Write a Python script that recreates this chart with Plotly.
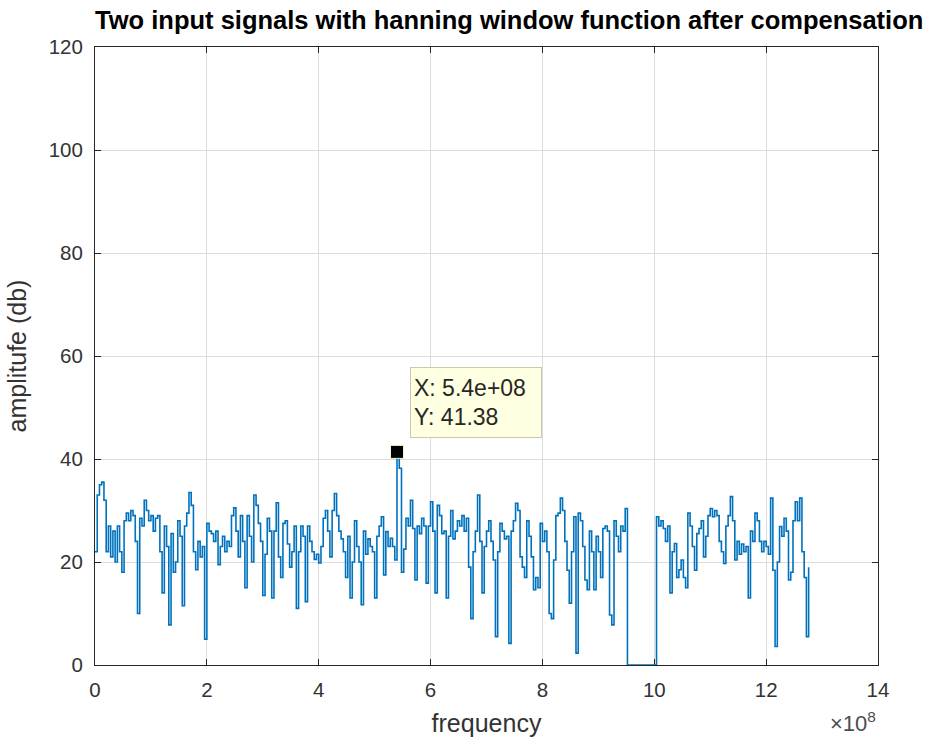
import numpy as np
import plotly.graph_objects as go

# Spectrum samples: frequency bins every 0.04e8 Hz, amplitude in dB
bin_step = 0.04e8
amplitude_db = [
    22, 33, 35, 35.5, 32, 22, 27, 21, 26, 20,
    27, 22, 18, 28, 29.5, 28, 30, 29, 24, 10,
    28.5, 27, 32, 30, 28, 29, 26, 28.5, 29, 22,
    14, 27, 23, 7.8, 25.5, 18, 20, 28, 25, 11.5,
    27, 29.5, 33.5, 31, 22, 18.5, 24, 21, 23, 5,
    27.5, 26, 25.5, 24, 26, 19.5, 23, 25, 22, 24,
    23, 29, 30.5, 26, 21, 29, 24, 15, 29, 25,
    20, 33, 31, 27.5, 24, 13.5, 21.5, 28.5, 26, 13,
    26, 31.5, 21, 17, 27.5, 28, 23.5, 19, 22, 27,
    11, 22, 27, 25, 12.3, 27, 24, 22, 20.5, 21.5,
    19.8, 23, 28.5, 30, 26, 21, 30, 33.3, 29, 26,
    24.5, 22, 17, 25, 13, 20, 28, 23, 20, 11.7,
    26, 21.5, 24.5, 23, 22, 13, 25, 27, 28.8, 17.5,
    25.9, 23, 24.6, 23, 20.4, 41.38, 38.2, 18, 22.5, 28.5,
    27, 32, 26.5, 16.5, 27, 25.5, 28.5, 27, 15.9, 27,
    31.7, 26, 14, 31, 29, 25.5, 26, 13, 25, 30,
    24.5, 26, 28, 27, 29, 26, 28.5, 19, 9, 22,
    26, 33, 24, 14, 23, 26, 28, 24, 20.4, 5.5,
    22, 27.5, 26, 24.5, 25, 4.2, 26, 28, 31.4, 30,
    21, 19, 17, 28, 25, 21, 14.6, 17, 15, 27.5,
    24, 26, 22, 10, 9, 20.4, 29, 29.5, 32.4, 30,
    24, 18.4, 12, 22, 28.8, 2.3, 29.5, 28, 23, 16.5,
    14.6, 26, 22, 14.6, 25, 22, 17, 26.5, 27, 26,
    9.7, 7.8, 28, 25, 22, 27, 26, 30.4, 0, 0,
    0, 0, 0, 0, 0, 0, 0, 0, 0, 0,
    0, 28.8, 27, 28, 26.5, 24, 27, 14, 22, 23.6,
    17, 18.5, 20.4, 17, 15, 29.5, 27, 23, 18.4, 25.5,
    26.5, 28, 21, 25, 29, 30.4, 28.8, 30, 29, 24,
    22, 19.7, 27, 29, 32.7, 28, 20.4, 24, 21.5, 23.5,
    22, 23, 13, 26, 24, 29.5, 28, 24, 22, 24,
    23, 21.5, 32.4, 18.4, 3.6, 20, 26.9, 25, 28.5, 26,
    16.5, 18, 28, 31.7, 28, 32.4, 22, 17, 5.5, 19,
]
frequency = np.arange(len(amplitude_db)) * bin_step

# Data cursor
tip_x = 5.4e8
tip_y = 41.38

x_ticks = [0, 2, 4, 6, 8, 10, 12, 14]
y_ticks = [0, 20, 40, 60, 80, 100, 120]
scale = 1e8

font_family = "Liberation Sans, Arial, sans-serif"
ink = "#262626"
label_ink = "#333333"
line_blue = "#0072BD"

fig = go.Figure()

fig.add_trace(go.Scatter(
    x=frequency / scale, y=amplitude_db,
    mode="lines", line=dict(color=line_blue, width=1.6, shape="hv"),
    hoverinfo="skip", showlegend=False,
))

fig.add_trace(go.Scatter(
    x=[tip_x / scale], y=[tip_y], mode="markers",
    marker=dict(symbol="square", size=13, color="black",
                line=dict(color="#f5f2c8", width=1)),
    hoverinfo="skip", showlegend=False,
))

fig.add_annotation(
    x=5.63, y=57.9, xref="x", yref="y",
    xanchor="left", yanchor="top",
    text=f"X: {tip_x:.1e}<br>Y: {tip_y:.2f}",
    showarrow=False, align="left",
    font=dict(family=font_family, size=23, color=ink),
    bgcolor="#ffffe1", bordercolor="#c9c9b0", borderwidth=1,
    borderpad=3, width=124, height=63,
)

# Exponent of the frequency axis, under the right end of the axis
fig.add_annotation(
    x=1.0, y=-0.066, xref="paper", yref="paper",
    xanchor="right", yanchor="top",
    text="×10<sup>8</sup>", showarrow=False,
    font=dict(family=font_family, size=22, color="#4d4d4d"),
)

axis_common = dict(
    showline=True, mirror="ticks", linecolor=ink, linewidth=1,
    ticks="inside", ticklen=6, tickcolor=ink,
    showgrid=True, gridcolor="#dcdcdc", gridwidth=1,
    zeroline=False, layer="below traces", automargin=False,
    tickfont=dict(family=font_family, size=20.5, color=label_ink),
)

fig.update_xaxes(
    range=[0, 14], tickvals=x_ticks, ticktext=[str(t) for t in x_ticks],
    ticklabelstandoff=6,
    title=dict(text="frequency", standoff=14,
               font=dict(family=font_family, size=25, color=label_ink)),
    **axis_common,
)
fig.update_yaxes(
    range=[0, 120], tickvals=y_ticks, ticktext=[str(t) for t in y_ticks],
    ticklabelstandoff=7,
    title=dict(text="amplitufe (db)", standoff=14,
               font=dict(family=font_family, size=25, color=label_ink)),
    **axis_common,
)

fig.update_layout(
    width=931, height=738,
    margin=dict(l=95, r=53, t=47, b=73),
    paper_bgcolor="white", plot_bgcolor="white",
    title=dict(
        text="<b>Two input signals with hanning window function after compensation</b>",
        x=0.529, xref="paper", xanchor="center",
        y=0.973, yref="container", yanchor="middle",
        font=dict(family=font_family, size=25.5, color="black"),
    ),
)

fig.write_html("out.html")
